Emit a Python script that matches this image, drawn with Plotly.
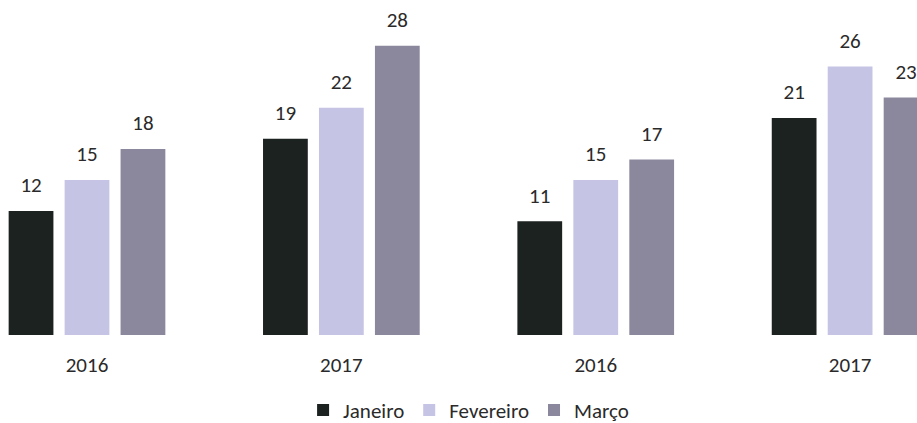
import plotly.graph_objects as go

groups = ["2016", "2017", "2016", "2017"]
series = ["Janeiro", "Fevereiro", "Março"]
janeiro = [12, 19, 11, 21]
fevereiro = [15, 22, 15, 26]
marco = [18, 28, 17, 23]
colors = ["#1b221f", "#c6c4e4", "#8b889d"]

values = [janeiro, fevereiro, marco]
xs = list(range(len(groups)))
bargap = 0.34
slot = (1 - bargap) / len(series)

FONT = "Carlito, Lato, 'Open Sans', sans-serif"
TXT = "#2a2a2a"

fig = go.Figure()
for k, (name, vals, col) in enumerate(zip(series, values, colors)):
    fig.add_trace(go.Bar(x=xs, y=vals, name=name, marker=dict(color=col, line=dict(width=0))))
for k, vals in enumerate(values):
    fig.add_trace(go.Scatter(
        x=[x + (k - 1) * slot for x in xs], y=vals, mode="markers+text",
        marker=dict(size=20, color="rgba(0,0,0,0)"),
        text=[str(v) for v in vals], textposition="top center",
        textfont=dict(size=21, color=TXT, family=FONT),
        showlegend=False, hoverinfo="skip", cliponaxis=False))

fig.update_layout(
    width=917, height=423,
    margin=dict(l=0, r=0, t=0, b=88),
    barmode="group", bargap=bargap, bargroupgap=0.2,
    plot_bgcolor="white", paper_bgcolor="white",
    font=dict(family=FONT, size=21, color=TXT),
    showlegend=True,
    legend=dict(orientation="h", x=0.511, xanchor="center", y=0.03, yref="container",
                yanchor="middle", font=dict(size=21, color=TXT), itemwidth=30,
                traceorder="normal", borderwidth=0),
    xaxis=dict(range=[-0.342, 3.263], tickvals=xs, ticktext=groups, showgrid=False,
               zeroline=False, showline=False, ticks="", ticklabelstandoff=15,
               automargin=False, tickfont=dict(size=21, color=TXT)),
    yaxis=dict(range=[0, 32.43], visible=False, showgrid=False, zeroline=False,
               automargin=False),
)
fig.write_html("out.html", config={"displayModeBar": False},
               post_script="document.body.style.margin='0';document.body.style.overflow='hidden';")
